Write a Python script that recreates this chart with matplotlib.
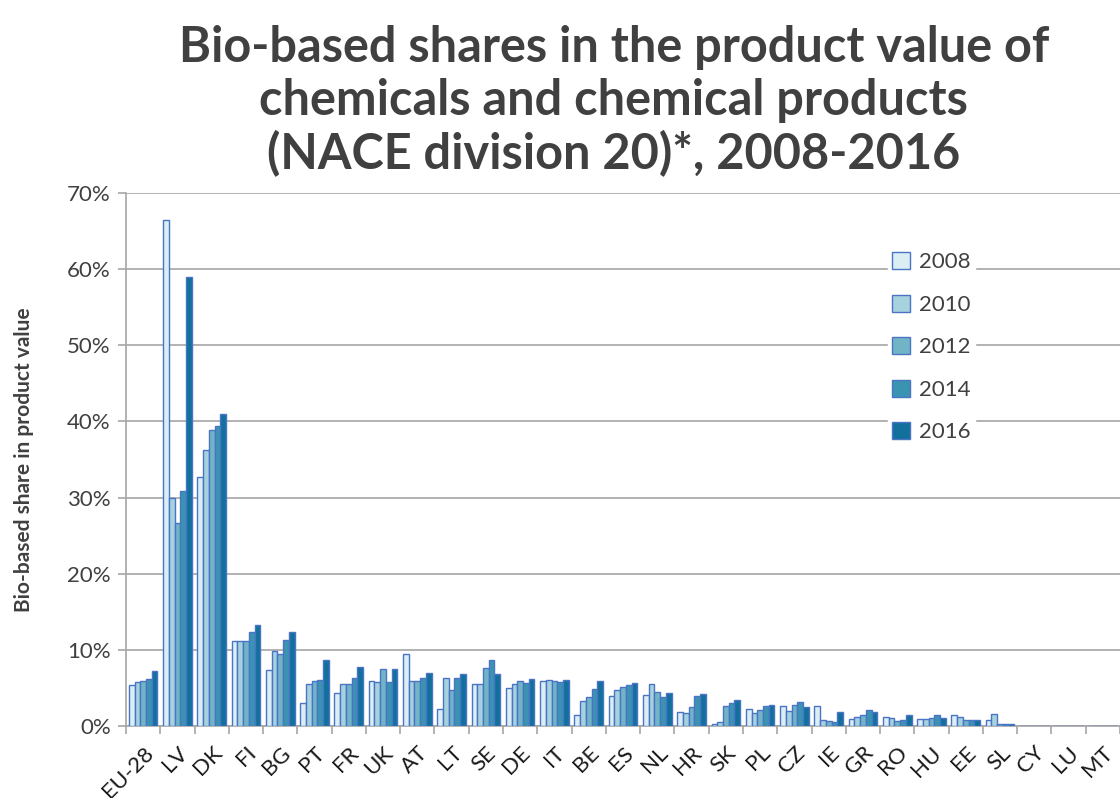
import numpy as np
import matplotlib.pyplot as plt
from matplotlib.ticker import PercentFormatter

countries = ["EU-28", "LV", "DK", "FI", "BG", "PT", "FR", "UK", "AT", "LT",
             "SE", "DE", "IT", "BE", "ES", "NL", "HR", "SK", "PL", "CZ",
             "IE", "GR", "RO", "HU", "EE", "SL", "CY", "LU", "MT"]
years = ["2008", "2010", "2012", "2014", "2016"]

# shares in %
s2008 = [5.4, 66.4, 32.7, 11.1, 7.4, 3.0, 4.4, 5.9, 9.45, 2.2,
         5.55, 5.05, 5.85, 1.5, 4.0, 4.05, 1.8, 0.2, 2.2, 2.65,
         2.6, 0.95, 1.2, 0.9, 1.5, 0.8, 0, 0, 0]
s2010 = [5.8, 30.0, 36.2, 11.1, 9.85, 5.55, 5.5, 5.8, 5.95, 6.3,
         5.5, 5.5, 6.1, 3.35, 4.75, 5.55, 1.7, 0.55, 1.65, 2.0,
         0.75, 1.2, 1.05, 0.9, 1.2, 1.6, 0, 0, 0]
s2012 = [5.85, 26.7, 38.9, 11.2, 9.45, 5.85, 5.55, 7.5, 5.95, 4.7,
         7.6, 5.95, 5.95, 3.75, 5.15, 4.45, 2.45, 2.6, 2.05, 2.75,
         0.6, 1.5, 0.7, 1.05, 0.85, 0.3, 0, 0, 0]
s2014 = [6.2, 30.8, 39.4, 12.3, 11.3, 6.0, 6.35, 5.8, 6.35, 6.3,
         8.65, 5.7, 5.8, 4.85, 5.45, 3.85, 4.0, 3.0, 2.6, 3.2,
         0.5, 2.1, 0.85, 1.5, 0.75, 0.3, 0, 0, 0]
s2016 = [7.2, 58.9, 41.0, 13.25, 12.3, 8.65, 7.75, 7.5, 7.0, 6.8,
         6.8, 6.15, 6.05, 5.95, 5.65, 4.35, 4.15, 3.45, 2.8, 2.55,
         1.9, 1.9, 1.4, 1.1, 0.8, 0.2, 0, 0, 0]
series = [s2008, s2010, s2012, s2014, s2016]
colors = ["#dbeef4", "#a6d2de", "#70b4c6", "#3a94b1", "#11709c"]

fig = plt.figure(figsize=(11.2, 7.98), dpi=100)
ax = fig.add_axes([0.1125, 0.0902, 0.8875, 0.668])

x = np.arange(len(countries))
w = 0.167
for i, (vals, c) in enumerate(zip(series, colors)):
    ax.bar(x + (i - 2) * w, vals, width=w, color=c, edgecolor="#4a74c6",
           linewidth=1.0, label=years[i], zorder=3)

ax.set_xlim(-0.5, len(countries) - 0.5)
ax.set_ylim(0, 70)
ax.set_yticks(np.arange(0, 71, 10))
ax.yaxis.set_major_formatter(PercentFormatter(decimals=0))
ax.grid(axis="y", color="#a6a6a6", linewidth=1.2, zorder=0)

ax.set_xticks(x)
ax.set_xticklabels(countries, rotation=45, ha="right", rotation_mode="anchor",
                   fontsize=16, family="Lato", color="#1a1a1a")
ax.set_xticks(np.arange(-0.5, len(countries), 1), minor=True)
ax.tick_params(axis="x", which="major", length=0, pad=12)
ax.tick_params(axis="x", which="minor", length=6, color="#a6a6a6", width=1.2)
ax.tick_params(axis="y", length=6, color="#a6a6a6", width=1.2, pad=5,
               labelsize=16, labelcolor="#404040")
for lab in ax.get_yticklabels():
    lab.set_family("Lato")

for side in ["top", "right"]:
    ax.spines[side].set_visible(False)
for side in ["left", "bottom"]:
    ax.spines[side].set_color("#a6a6a6")
    ax.spines[side].set_linewidth(1.2)

ax.set_ylabel("Bio-based share in product value", fontsize=15,
              fontweight="bold", color="#404040", family="Lato", labelpad=24)

leg = ax.legend(loc="upper left", bbox_to_anchor=(0.755, 0.918), frameon=True,
                handlelength=0.8, handleheight=0.8,
                labelspacing=1.0, handletextpad=0.4, borderpad=0.2,
                prop={"family": "Lato", "size": 16})
leg.get_frame().set_edgecolor("white")
leg.get_frame().set_facecolor("white")
leg.get_frame().set_alpha(1)
for t in leg.get_texts():
    t.set_color("#404040")

fig.text(0.548, 0.873, "Bio-based shares in the product value of\n"
         "chemicals and chemical products\n(NACE division 20)*, 2008-2016",
         ha="center", va="center", fontsize=35, fontweight="bold",
         color="#404040", family="Lato", linespacing=1.2)

fig.savefig("out.png", dpi=100)
